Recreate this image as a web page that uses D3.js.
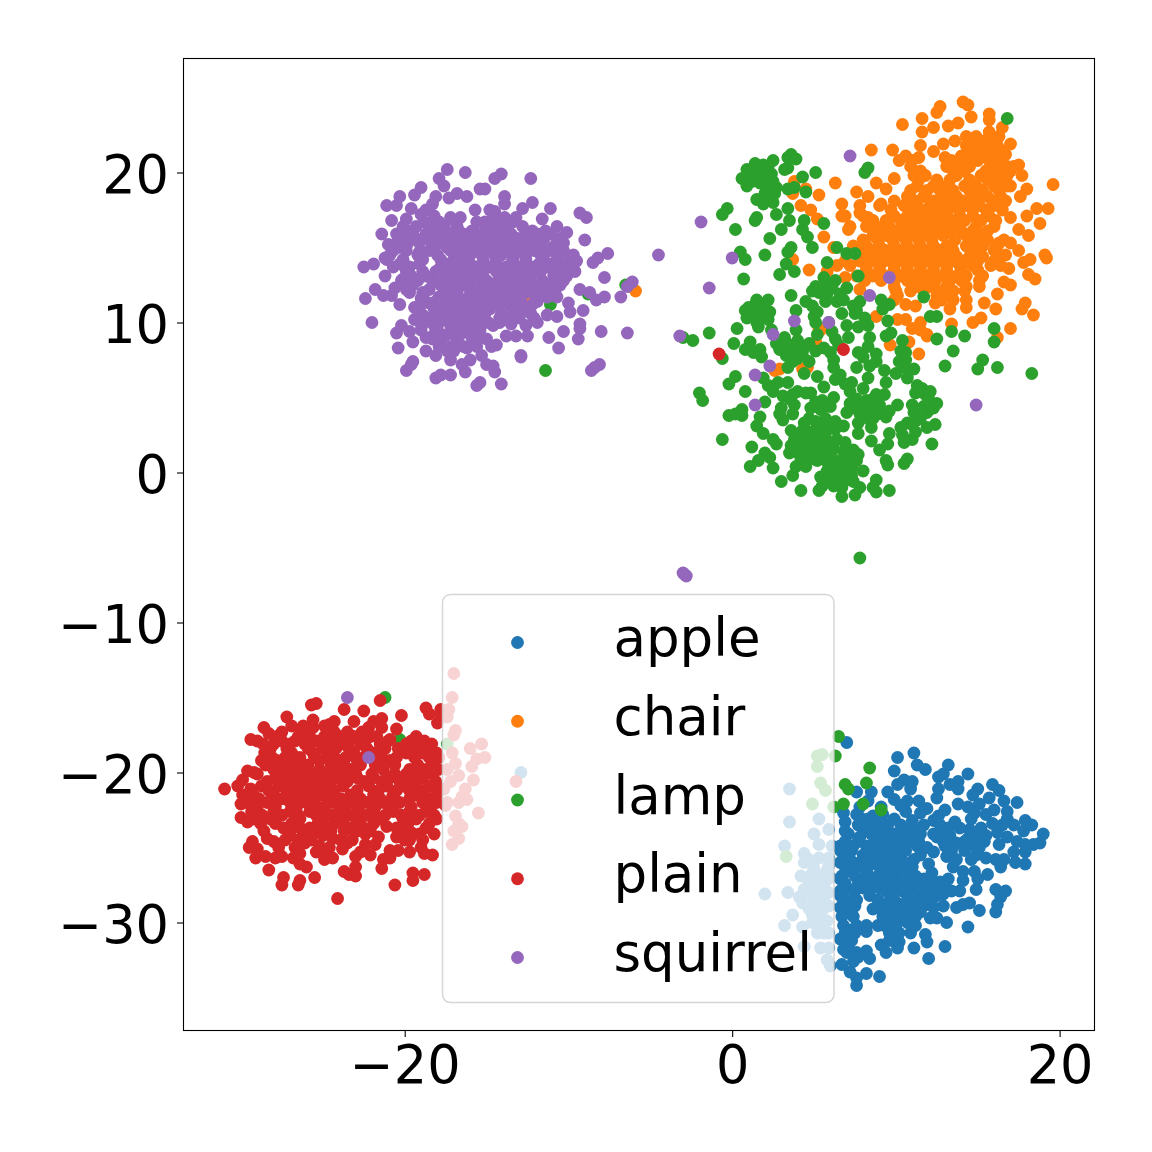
<!DOCTYPE html>
<html>
<head>
<meta charset="utf-8">
<script src="https://cdn.jsdelivr.net/npm/d3@7"></script>
<style>
    html, body { margin: 0; padding: 0; background: #fff; }
    text { font-family: "DejaVu Sans", sans-serif; }
</style>
</head>
<body>
<div class="chart"></div>
<script>
// Values, [x, y] in data units
var labels = ["apple", "chair", "lamp", "plain", "squirrel"];
var colors = ["#1f77b4", "#ff7f0e", "#2ca02c", "#d62728", "#9467bd"];
var xTicks = [-20, 0, 20];
var yTicks = [-30, -20, -10, 0, 10, 20];

var apple = [
[7.0,-18.0],[10.1,-19.0],[11.1,-18.7],[9.9,-19.9],[11.3,-19.5],[11.8,-19.8],[13.2,-19.5],[14.4,-20.1],[12.9,-20.1],[12.6,-20.3],
[13.8,-20.6],[10.5,-20.5],[11.0,-20.6],[10.1,-20.8],[10.9,-21.1],[9.5,-21.3],[9.9,-21.8],[8.5,-21.3],[7.6,-21.3],[15.9,-20.8],
[15.0,-21.1],[14.7,-21.5],[16.3,-21.2],[13.3,-20.8],[12.6,-21.1],[12.5,-21.7],[13.8,-21.1],[17.4,-22.0],[16.6,-21.9],[15.7,-21.7],
[15.1,-22.1],[16.8,-22.6],[16.0,-22.5],[13.0,-22.5],[13.8,-22.1],[14.4,-22.3],[11.4,-21.9],[10.7,-21.9],[11.9,-22.4],[11.5,-22.7],
[10.6,-22.6],[9.1,-22.3],[7.8,-22.3],[7.8,-23.0],[6.8,-22.7],[6.9,-23.3],[6.9,-23.9],[8.6,-22.9],[9.9,-23.1],[12.3,-23.2],
[17.9,-23.2],[18.3,-23.5],[16.8,-23.1],[17.2,-23.5],[17.8,-23.9],[19.0,-24.1],[18.8,-24.7],[18.4,-24.8],[17.9,-24.8],[17.9,-25.3],
[17.4,-24.6],[16.8,-24.3],[16.2,-24.0],[16.3,-24.8],[17.2,-25.3],[17.9,-26.1],[17.3,-26.0],[16.6,-25.8],[16.1,-25.8],[15.5,-25.7],
[15.2,-23.7],[14.5,-23.8],[13.9,-23.7],[13.2,-23.7],[13.3,-24.2],[12.3,-24.1],[14.7,-24.8],[14.2,-25.2],[13.1,-25.6],[13.7,-24.7],
[11.3,-24.9],[11.9,-25.0],[12.3,-25.3],[11.5,-25.5],[11.1,-25.8],[12.0,-26.1],[12.2,-26.7],[15.6,-26.8],[14.8,-26.6],[14.1,-26.6],
[15.0,-27.1],[14.9,-27.8],[13.9,-27.9],[14.1,-27.2],[13.2,-27.1],[12.7,-27.3],[11.6,-27.3],[16.1,-27.8],[16.7,-27.9],[16.4,-28.3],
[16.2,-28.8],[16.1,-29.3],[15.1,-29.2],[14.5,-28.7],[14.1,-28.8],[13.7,-29.0],[12.9,-28.9],[12.9,-28.1],[12.1,-28.0],[13.1,-30.0],
[12.5,-29.7],[12.1,-29.7],[14.4,-30.3],[13.0,-31.6],[11.9,-31.3],[11.8,-30.8],[11.1,-31.7],[12.0,-32.4],[10.2,-31.3],[9.9,-31.1],
[10.1,-31.7],[9.1,-31.5],[9.4,-32.0],[9.0,-33.6],[8.2,-33.4],[7.6,-34.2],[7.6,-33.7],[7.2,-33.3],[6.7,-32.8],[7.4,-32.6],
[7.7,-32.3],[8.4,-32.4],[8.2,-31.9],[7.1,-31.6],[6.8,-31.8],[6.6,-31.1],[7.3,-30.5],[6.8,-30.2],[8.2,-30.2],[8.2,-30.6],
[8.9,-30.2],[9.7,-30.1],[8.6,-29.1],[7.5,-28.9],[7.1,-29.3],[6.8,-28.7],[10.7,-30.0],[11.2,-30.2],[10.2,-30.7],
[8.1,-23.8],[9.2,-23.8],[10.7,-23.8],[11.1,-23.8],[7.8,-24.3],[8.8,-24.3],[10.1,-24.3],[11.1,-24.3],[12.5,-24.3],
[6.6,-24.9],[7.4,-24.9],[8.2,-24.9],[9.2,-24.9],[10.1,-24.9],[6.8,-25.5],[8.0,-25.5],[9.4,-25.5],[10.3,-25.5],
[6.6,-26.0],[7.8,-26.0],[8.6,-26.0],[9.65,-26.0],[10.5,-26.0],[7.0,-26.6],[8.2,-26.6],[9.2,-26.6],[10.1,-26.6],[10.7,-26.6],
[6.6,-27.1],[8.0,-27.1],[8.8,-27.1],[9.9,-27.1],[10.5,-27.1],[11.7,-27.1],[7.0,-27.7],[8.0,-27.7],[9.0,-27.7],[10.1,-27.7],[10.9,-27.7],[11.9,-27.7],
[6.6,-28.2],[8.4,-28.2],[9.65,-28.2],[10.7,-28.2],[11.7,-28.2],[12.5,-28.2],[9.4,-28.8],[10.3,-28.8],[11.1,-28.8],[11.9,-28.8],[9.65,-29.3],[10.7,-29.3],[11.5,-29.3],
[7.7,-23.5],[8.3,-23.5],[8.9,-23.5],[9.5,-23.5],[10.3,-23.5],[11.7,-23.5],[12.7,-23.5],[7.1,-24.1],[8.5,-24.1],[9.3,-24.1],[9.9,-24.1],[10.5,-24.1],[11.5,-24.1],
[6.9,-24.6],[7.7,-24.6],[8.7,-24.6],[9.6,-24.6],[10.7,-24.6],[11.4,-24.6],[12.9,-24.6],[14.2,-24.6],[15.4,-24.6],[6.6,-25.2],[7.3,-25.2],[8.4,-25.2],[8.9,-25.2],[9.8,-25.2],[10.6,-25.2],
[7.2,-25.8],[8.2,-25.8],[8.9,-25.8],[9.8,-25.8],[10.0,-25.8],[13.7,-25.8],[14.6,-25.8],[6.9,-26.3],[7.6,-26.3],[8.3,-26.3],[9.0,-26.3],[9.5,-26.3],[10.2,-26.3],[11.0,-26.3],[13.5,-26.3],
[6.7,-26.9],[7.5,-26.9],[8.3,-26.9],[8.9,-26.9],[9.7,-26.9],[10.5,-26.9],[11.2,-26.9],[6.9,-27.4],[7.7,-27.4],[8.3,-27.4],[9.3,-27.4],[9.9,-27.4],[10.7,-27.4],[11.2,-27.4],[12.2,-27.4],[13.0,-27.4],
[6.6,-27.9],[7.5,-27.9],[8.4,-27.9],[9.4,-27.9],[10.4,-27.9],[11.4,-27.9],[12.4,-27.9],[13.4,-27.9],[7.0,-28.5],[7.6,-28.5],[8.9,-28.5],[9.9,-28.5],[10.9,-28.5],[11.3,-28.5],[12.2,-28.5],
[6.6,-29.0],[7.2,-29.0],[9.0,-29.0],[10.0,-29.0],[10.9,-29.0],[11.4,-29.0],[12.3,-29.0],[6.7,-29.6],[7.4,-29.6],[9.2,-29.6],[10.1,-29.6],[10.5,-29.6],[11.2,-29.6],
[7.6,-30.2],[9.3,-30.2],[10.0,-30.2],[6.9,-30.7],[7.5,-30.7],[9.6,-30.7],[10.9,-30.7],[7.3,-31.2],[9.6,-31.2],[7.0,-32.0],[7.6,-32.0],
[15.5,-22.8],[14.8,-22.7],[16.5,-23.5],[15.9,-23.4],[14.9,-24.3],[14.4,-24.4],[13.5,-24.9],[13.0,-24.9],[13.4,-25.2],
[8.3,-21.9],[9.2,-22.8],[10.3,-22.2],[11.0,-23.2],[12.6,-22.9],[8.3,-23.1],[12.9,-23.9],[13.6,-23.3],[14.6,-23.1],[15.5,-24.2],[15.1,-25.0],[14.9,-25.5],[16.4,-26.3],[7.6,-22.8],
[3.5,-21.1],[3.5,-23.3],[5.3,-23.1],[5.9,-23.8],[5.0,-24.1],[5.3,-24.8],[3.2,-24.9],[6.1,-24.9],[4.4,-25.4],[4.7,-25.8],
[5.3,-25.7],[5.9,-25.7],[5.9,-26.2],[4.2,-26.9],[4.9,-26.7],[4.7,-27.3],[5.2,-27.3],[5.7,-27.3],[2.0,-28.1],[3.4,-28.0],
[4.1,-28.3],[4.7,-28.0],[5.3,-28.2],[5.9,-28.0],[4.7,-29.1],[3.7,-29.5],[5.3,-28.9],[5.9,-28.9],[3.2,-30.2],[4.3,-30.3],
[5.3,-29.7],[5.8,-29.9],[5.2,-30.7],[5.9,-30.7],[4.4,-31.6],[5.4,-31.7],[5.9,-31.7],[5.8,-32.5],[6.0,-32.9],[5.5,-30.2],
[4.4,-26.0],[5.0,-26.4],[5.5,-26.9],[6.0,-27.0],[4.4,-27.8],[5.0,-28.6],[5.6,-28.5],[4.9,-29.5],[5.5,-29.2],[4.9,-30.0],[5.8,-26.5],[4.3,-28.7],[5.6,-30.7],[5.0,-27.7],[5.5,-27.7],
[-12.9,-20.0]
];

var chair = [
[14.1,24.7],[14.4,24.5],[12.7,24.4],[12.5,24.0],[11.6,23.6],[14.6,23.7],[15.7,23.9],[15.7,23.5],[10.4,23.2],[13.2,23.1],
[13.8,23.3],[12.3,23.0],[11.6,22.7],[16.5,23.0],[15.7,22.7],[8.5,21.5],[9.8,21.5],[11.5,21.8],[12.9,21.9],[13.6,22.1],
[17.0,21.9],[10.6,21.1],[12.3,21.4],[11.4,21.0],[10.2,20.8],[13.0,21.0],[16.7,21.2],[17.5,20.5],[17.7,19.8],[19.6,19.2],
[18.0,18.9],[17.6,18.4],[17.0,19.1],[6.3,19.3],[8.8,19.3],[9.9,19.6],[9.4,18.9],[7.6,18.7],[8.3,18.4],[5.3,18.5],
[3.8,19.4],[3.7,18.6],[4.5,18.9],[6.7,17.9],[4.2,17.8],[4.8,17.5],[5.2,16.9],[5.6,15.7],[19.3,17.6],[18.6,17.6],
[18.0,17.1],[17.0,17.0],[18.8,16.6],[18.1,15.8],[17.5,16.2],[17.0,15.3],[16.3,15.3],[17.5,14.8],[19.1,14.5],[19.2,14.3],
[18.2,14.2],[17.8,14.0],[18.1,13.2],[18.5,12.9],[16.9,13.6],[16.7,14.5],[17.0,12.5],[16.6,12.7],[16.2,11.9],[15.1,12.4],
[17.9,11.3],[17.7,10.9],[18.4,10.5],[16.1,10.9],[15.4,11.3],[15.2,10.3],[14.7,10.0],[17.0,9.6],[14.3,11.0],[14.3,11.5],
[13.3,10.9],[12.4,11.3],[13.4,9.9],[11.5,10.0],[11.0,9.6],[10.6,10.2],[10.1,10.2],[8.8,10.4],[11.2,11.1],[10.6,11.2],
[11.9,9.2],[16.2,9.0],[4.7,13.5],[5.8,13.4],[3.7,14.2],[6.2,15.0],[6.9,13.0],[7.8,12.2],[5.3,9.6],
[9.65,8.5],[10.8,8.7],[11.4,7.9],[11.9,9.1],[11.5,9.5],[2.9,6.9],[2.6,6.8],[4.6,7.0],[4.3,6.9],[5.1,8.7],[5.4,9.5],
[-5.9,12.1],[-12.4,11.8],
[14.3,22.4],[14.9,22.4],[15.7,22.4],[16.3,22.4],[14.3,21.8],[14.9,21.8],[15.6,21.8],[16.2,21.8],[14.0,21.1],[14.7,21.1],[15.4,21.1],[16.1,21.1],
[10.9,20.4],[13.1,20.4],[13.9,20.4],[14.5,20.4],[15.8,20.4],[16.8,20.4],[17.2,20.4],[11.1,19.8],[11.8,19.8],[13.7,19.8],[15.2,19.8],[16.0,19.8],[16.8,19.8],
[11.3,19.1],[12.3,19.1],[13.1,19.1],[14.2,19.1],[14.9,19.1],[16.0,19.1],[16.8,19.1],[10.7,18.4],[11.7,18.4],[12.9,18.4],[13.7,18.4],[14.7,18.4],[15.6,18.4],[16.4,18.4],
[7.8,17.8],[9.0,17.8],[10.5,17.8],[11.3,17.8],[12.1,17.8],[12.9,17.8],[13.5,17.8],[14.3,17.8],[15.1,17.8],[16.0,17.8],
[6.8,17.1],[8.0,17.1],[9.9,17.1],[10.7,17.1],[11.5,17.1],[12.3,17.1],[13.1,17.1],[13.9,17.1],[14.7,17.1],[15.7,17.1],
[7.2,16.4],[8.2,16.4],[8.8,16.4],[9.6,16.4],[10.5,16.4],[11.3,16.4],[12.1,16.4],[12.9,16.4],[13.7,16.4],[14.9,16.4],[16.0,16.4],
[8.6,15.8],[9.4,15.8],[10.3,15.8],[11.1,15.8],[11.7,15.8],[12.9,15.8],[14.3,15.8],[15.1,15.8],
[7.4,15.1],[8.2,15.1],[9.0,15.1],[9.9,15.1],[10.7,15.1],[11.5,15.1],[12.3,15.1],[13.1,15.1],[14.3,15.1],[15.3,15.1],[16.2,15.1],
[8.0,14.4],[8.8,14.4],[9.6,14.4],[10.5,14.4],[11.3,14.4],[12.1,14.4],[12.9,14.4],[13.7,14.4],[14.5,14.4],[15.3,14.4],[16.2,14.4],
[6.4,13.8],[7.2,13.8],[8.2,13.8],[9.0,13.8],[9.9,13.8],[10.7,13.8],[11.5,13.8],[12.3,13.8],[13.1,13.8],[13.9,13.8],[14.7,13.8],[15.8,13.8],[16.4,13.8],
[7.6,13.1],[8.6,13.1],[9.4,13.1],[10.3,13.1],[11.1,13.1],[11.9,13.1],[12.9,13.1],[13.7,13.1],[14.3,13.1],[15.3,13.1],
[9.9,12.4],[11.3,12.4],[12.1,12.4],[13.1,12.4],[14.3,12.4],[10.1,11.8],[12.5,11.8],[13.3,11.8],
[6.9,17.1],[7.1,16.2],[6.7,17.1],[7.8,17.3],[8.3,17.0],[9.1,17.9],[9.9,18.1],
[14.6,22.1],[15.2,22.1],[16.0,22.1],[14.6,21.5],[15.3,21.5],[15.9,21.5],[16.4,21.5],[14.4,20.8],[15.0,20.8],[15.7,20.8],[16.4,20.8],[11.0,20.8],[13.4,20.8],
[11.5,20.1],[13.5,20.1],[14.2,20.1],[15.5,20.1],[16.3,20.1],[17.0,20.1],[11.4,19.5],[12.5,19.5],[13.3,19.5],[14.5,19.5],[15.6,19.5],[16.4,19.5],
[10.9,18.8],[11.9,18.8],[12.7,18.8],[13.5,18.8],[14.5,18.8],[15.3,18.8],[16.3,18.8],[11.2,18.1],[12.3,18.1],[13.3,18.1],[14.1,18.1],[15.0,18.1],[15.9,18.1],[16.7,18.1],
[9.7,17.5],[10.9,17.5],[11.8,17.5],[12.5,17.5],[13.2,17.5],[13.9,17.5],[14.7,17.5],[15.5,17.5],[16.5,17.5],
[8.6,16.8],[9.4,16.8],[10.3,16.8],[11.1,16.8],[11.9,16.8],[12.6,16.8],[13.4,16.8],[14.2,16.8],[15.2,16.8],[16.1,16.8],
[9.1,16.1],[10.0,16.1],[10.8,16.1],[11.6,16.1],[12.4,16.1],[13.3,16.1],[14.0,16.1],[14.7,16.1],[15.6,16.1],
[8.0,15.5],[8.9,15.5],[9.8,15.5],[10.6,15.5],[11.4,15.5],[12.2,15.5],[13.6,15.5],[14.7,15.5],[15.6,15.5],[16.6,15.5],
[7.8,14.8],[8.6,14.8],[9.4,14.8],[10.2,14.8],[11.0,14.8],[11.8,14.8],[12.7,14.8],[13.5,14.8],[14.6,14.8],[15.1,14.8],[16.0,14.8],
[6.9,14.1],[7.8,14.1],[8.5,14.1],[9.3,14.1],[10.2,14.1],[11.0,14.1],[11.8,14.1],[12.6,14.1],[13.4,14.1],[14.2,14.1],[15.0,14.1],[16.0,14.1],
[8.2,13.5],[9.0,13.5],[9.9,13.5],[10.7,13.5],[11.5,13.5],[12.3,13.5],[13.1,13.5],[14.0,13.5],[15.0,13.5],
[8.1,12.8],[9.1,12.8],[9.9,12.8],[10.7,12.8],[11.6,12.8],[12.4,12.8],[13.3,12.8],[14.0,12.8],[15.1,12.8],
[10.0,12.1],[10.9,12.1],[11.7,12.1],[12.7,12.1],[13.5,12.1],[14.2,12.1],[9.9,11.5],[12.8,11.5],[13.5,11.5]
];

var lamp = [
[3.6,21.2],[3.9,20.9],[3.4,21.0],[2.5,20.8],[1.4,20.6],[1.9,20.5],[0.9,20.2],[0.6,19.6],[0.9,19.1],[1.4,19.9],
[1.9,19.8],[2.4,19.9],[2.2,19.2],[2.7,19.0],[3.4,20.3],[3.2,20.2],[5.1,20.0],[4.3,19.7],[3.4,18.9],[3.8,19.0],
[4.5,18.7],[1.5,18.2],[2.2,18.4],[2.5,18.0],[2.1,18.9],[1.7,19.3],[2.7,17.2],[3.4,17.6],[3.5,16.8],[3.0,16.2],
[8.3,20.3],[8.1,20.0],[-0.3,17.6],[-0.6,17.2],[1.5,17.0],[1.4,16.8],[0.2,16.2],[4.4,16.8],[4.3,16.2],[4.6,15.7],
[4.9,15.0],[5.6,16.6],[2.3,15.6],[0.5,14.7],[0.8,14.2],[2.0,14.5],[3.6,15.0],[3.4,14.7],[6.4,15.0],[7.0,14.6],
[7.5,14.6],[5.8,14.0],[3.3,13.9],[2.9,13.2],[3.8,13.4],[0.7,12.9],[7.7,13.1],[16.8,23.6],
[11.7,11.7],[6.3,12.8],[5.8,12.5],[5.1,12.4],[5.3,12.0],[5.7,11.4],[7.0,12.3],[6.6,11.9],[6.4,11.4],[3.6,11.8],
[2.2,11.5],[1.4,11.2],[1.1,10.7],[1.7,10.9],[2.3,10.7],[0.9,10.3],[1.6,9.7],[0.3,9.6],[-1.4,9.3],[-2.4,8.8],
[-3.0,9.0],[4.5,11.4],[4.9,11.1],[3.9,10.8],[5.2,10.7],[5.1,10.0],[6.7,10.6],[7.8,11.4],[7.4,11.1],[7.6,10.8],
[9.1,11.5],[9.2,10.9],[9.6,11.2],[8.1,10.3],[9.5,10.1],[8.3,9.8],[7.7,9.7],[7.0,9.8],[12.1,10.4],[12.5,10.4],
[13.4,9.4],[14.2,9.1],[16.0,9.6],[12.5,8.9],[16.0,8.7],[13.5,8.1],[15.3,7.5],[15.0,6.9],[16.2,7.0],[13.0,7.1],
[18.3,6.6],[3.9,9.5],[5.2,9.2],[2.4,9.5],[5.9,10.0],[6.1,9.4],[6.3,8.9],[7.1,9.0],[8.4,9.0],[8.3,8.4],
[9.4,9.1],[9.7,9.3],[10.4,8.8],[10.3,8.1],[10.6,7.5],[10.5,7.0],[11.1,6.9],[10.0,6.6],[9.3,6.8],[9.4,6.0],
[8.8,7.9],[8.4,7.1],[8.3,6.3],[8.0,5.6],[7.7,8.0],[8.0,7.7],[7.6,7.0],[7.3,6.0],[6.9,5.9],[6.3,6.2],
[6.2,7.0],[6.2,7.5],[5.6,8.3],[5.1,8.1],[4.7,7.4],[4.4,6.6],[5.2,6.4],[5.6,5.7],[4.4,8.3],[4.0,8.8],
[3.6,8.1],[3.2,8.8],[2.9,8.2],[4.0,7.6],[0.1,8.6],[1.1,8.7],[0.8,8.2],[1.3,8.0],[1.7,8.2],[1.8,7.7],
[-0.6,7.6],[0.2,6.4],[-0.2,5.9],[0.8,5.4],[-2.0,5.3],[-1.8,4.8],[1.9,6.3],[2.2,5.8],[2.5,5.4],[2.8,6.0],
[3.4,6.0],[2.0,4.7],[0.6,4.2],[0.2,3.9],[-0.2,3.8],[0.6,3.8],[1.7,3.7],[1.5,3.1],[1.9,2.6],[-0.6,2.2],
[2.5,2.2],[2.7,1.9],[1.2,1.7],[2.0,1.3],[2.3,1.0],[1.6,0.8],[1.1,0.4],[2.5,0.3],[3.0,-0.6],[3.7,-0.2],
[4.2,-1.2],[5.3,-1.2],[5.5,-0.9],[5.4,-0.3],[6.2,-0.9],[6.7,-1.0],[6.7,-1.6],[7.5,-1.5],[7.8,-1.0],[7.4,-0.6],
[8.0,0.1],[8.6,-1.0],[8.8,-1.3],[8.8,-0.5],[9.6,-1.2],[9.4,0.8],[9.5,0.5],[10.5,0.6],[10.7,0.9],[9.0,1.5],
[9.5,1.9],[9.6,2.6],[8.5,2.1],[8.5,3.0],[7.7,2.6],[10.5,2.0],[10.4,2.5],[11.2,2.7],[12.2,1.9],[12.4,3.2],
[11.9,3.0],[11.3,3.5],[10.7,3.3],[10.3,3.0],[11.1,4.0],[11.9,4.0],[12.3,4.3],[12.5,4.6],[11.7,4.4],[11.0,4.5],
[10.1,4.5],[9.6,4.1],[9.4,3.7],[8.9,3.9],[8.2,4.1],[7.8,3.9],[7.7,3.3],[7.0,4.0],[8.7,4.3],[8.2,4.8],
[8.8,5.2],[9.3,5.2],[8.0,4.5],[11.3,5.8],[12.1,5.4],[11.2,5.3],[11.8,5.2],[7.6,4.9],[6.2,5.0],[5.5,4.8],
[6.0,4.4],[4.8,5.3],[4.5,5.3],[3.7,5.2],[3.1,5.1],[3.0,4.3],[3.8,4.5],[3.7,3.9],[2.9,3.9],[3.1,3.5],
[4.8,4.3],[5.4,4.2],[4.4,3.3],[5.1,3.4],[5.8,3.1],[6.8,3.1],[6.3,2.9],[3.6,2.8],[4.2,2.4],[3.6,1.8],
[3.5,1.3],[4.2,1.8],[4.8,2.2],[5.4,2.2],[4.6,1.3],[5.2,1.5],[5.8,1.5],[3.9,0.4],[4.5,0.4],[5.2,0.8],
[6.0,0.4],[6.7,0.0],[6.4,0.2],[7.0,0.7],[7.6,0.8],[7.7,1.2],[6.8,1.4],[7.4,1.5],[6.9,2.0],[6.4,2.2],
[6.2,-0.2],[6.0,1.1],[5.0,0.9],[7.3,0.3],[7.1,0.1],[5.8,0.1],[7.8,-5.7],
[1.0,20.0],[1.6,20.2],[2.2,20.4],[1.2,19.4],[1.8,19.5],[2.5,19.4],[2.0,18.6],[2.6,18.6],[1.9,17.9],
[1.0,11.0],[1.5,11.5],[1.9,11.1],[1.2,10.4],[1.8,10.3],[2.2,10.2],[1.5,10.0],[0.8,10.8],
[3.0,8.4],[3.5,8.5],[3.9,8.2],[4.3,7.8],[3.3,7.8],[3.7,7.4],
[4.3,1.0],[3.9,1.4],[4.9,1.7],[5.5,1.0],[5.8,0.7],[6.3,0.8],[6.7,0.7],[6.4,-0.5],[6.2,1.6],[5.4,1.8],[4.7,2.7],[5.0,2.4],[5.7,2.6],[6.0,2.0],[7.0,1.1],[7.3,-0.2],[7.0,-0.5],[4.2,0.9],[3.8,2.2],[4.3,2.8],[5.9,-0.5],[5.5,-0.4],
[8.3,3.6],[8.6,3.6],[8.2,4.6],[8.6,4.9],[9.0,4.5],[7.5,4.3],[7.2,4.6],[5.1,4.7],[5.7,4.4],[5.2,3.0],[4.7,3.6],[5.7,3.6],[6.3,3.4],
[3.5,4.9],[11.0,3.2],[11.5,3.6],[11.0,2.2],[11.6,5.6],[12.0,4.9],[3.4,7.0],[4.7,8.6],[6.5,8.5],[6.0,8.0],[6.6,6.5],[7.2,5.4],[4.0,5.4],[10.7,6.3],[10.2,7.4],[8.8,7.4],
[5.5,12.0],[5.8,11.9],[6.1,12.3],[4.9,12.1],[5.6,13.0],[6.8,11.5],[7.5,10.6],[9.3,11.2],[5.0,10.4],[10.6,8.0],[2.7,8.6],[3.2,9.0],
[-11.1,11.2],[-8.8,11.9],[-6.5,12.5],[-11.4,6.8],
[6.5,-17.6],[6.3,-18.9],[8.4,-19.7],[8.2,-20.7],[6.9,-20.8],[7.1,-21.1],[6.8,-22.1],[8.0,-22.1],[9.1,-22.5],[6.2,-22.3],
[5.5,-18.8],[5.2,-18.9],[5.2,-19.6],[5.4,-20.7],[5.7,-21.2],[4.9,-22.1],[3.3,-25.6],
[-21.2,-15.0],[-20.3,-17.8],[-17.4,-18.1]
];

var plain = [
[-25.4,-15.4],[-25.7,-15.5],[-23.7,-15.8],[-21.5,-15.2],[-22.5,-15.9],[-27.2,-16.3],[-28.6,-17.0],[-29.4,-17.8],[-25.6,-16.5],[-25.6,-17.0],
[-24.3,-16.6],[-24.6,-16.8],[-23.1,-16.6],[-21.9,-16.6],[-21.4,-16.4],[-20.2,-16.2],[-20.5,-17.1],[-19.3,-17.6],[-18.7,-15.7],[-18.5,-16.1],
[-17.8,-15.8],[-18.0,-16.7],[-17.8,-16.2],[-20.9,-17.8],[-29.6,-19.9],[-29.2,-20.0],[-31.0,-21.1],[-30.2,-20.9],[-29.9,-21.5],[-30.0,-22.1],
[-30.0,-23.0],[-29.6,-23.3],[-28.6,-23.9],[-29.3,-24.6],[-29.5,-25.0],[-29.0,-25.1],[-29.1,-25.7],[-28.5,-25.6],[-27.9,-25.7],[-28.3,-26.5],
[-27.4,-27.0],[-27.5,-27.5],[-26.5,-27.5],[-26.4,-27.2],[-25.5,-27.0],[-26.0,-26.3],[-26.4,-26.1],[-26.8,-25.7],[-28.0,-24.6],[-25.4,-25.3],
[-24.9,-25.8],[-24.4,-25.7],[-25.2,-24.9],[-23.8,-25.1],[-26.1,-24.7],[-23.7,-26.6],[-23.0,-26.9],[-23.4,-26.8],[-23.0,-26.3],[-23.0,-25.6],
[-22.7,-25.3],[-22.1,-25.5],[-21.4,-26.4],[-21.3,-25.8],[-20.9,-25.7],[-20.9,-25.2],[-20.4,-25.2],[-19.7,-25.3],[-18.8,-25.4],[-18.3,-25.5],
[-19.5,-26.7],[-18.8,-26.8],[-19.5,-27.2],[-20.6,-27.5],[-24.1,-28.4],[-21.6,-24.3],[-20.5,-24.3],[-18.9,-24.5],[-18.2,-24.1],[-19.6,-24.0],
[-22.4,-24.1],[-23.5,-24.7],[-24.4,-24.4],[-24.9,-24.1],[-21.1,-23.6],
[-27.8,-17.6],[-26.5,-17.6],[-25.8,-17.6],[-24.9,-17.6],[-24.0,-17.6],[-23.1,-17.6],[-22.1,-17.6],[-21.7,-17.6],
[-28.65,-18.1],[-28.0,-18.1],[-27.0,-18.1],[-26.1,-18.1],[-24.8,-18.1],[-23.75,-18.1],[-22.7,-18.1],[-21.5,-18.1],[-19.9,-18.1],[-19.1,-18.1],[-18.35,-18.1],
[-28.55,-18.7],[-26.9,-18.7],[-25.6,-18.7],[-24.4,-18.7],[-23.1,-18.7],[-21.9,-18.7],[-19.9,-18.7],[-18.9,-18.7],[-18.05,-18.7],
[-28.75,-19.2],[-27.8,-19.2],[-26.6,-19.2],[-25.2,-19.2],[-24.0,-19.2],[-22.9,-19.2],[-20.9,-19.2],[-18.25,-19.2],
[-28.0,-19.8],[-27.3,-19.8],[-26.3,-19.8],[-25.2,-19.8],[-24.2,-19.8],[-23.3,-19.8],[-21.3,-19.8],[-19.7,-19.8],[-18.7,-19.8],[-17.95,-19.8],
[-27.9,-20.35],[-27.0,-20.35],[-26.0,-20.35],[-25.0,-20.35],[-24.0,-20.35],[-22.9,-20.35],[-21.9,-20.35],[-20.9,-20.35],[-19.7,-20.35],[-18.9,-20.35],
[-28.75,-20.9],[-27.7,-20.9],[-26.8,-20.9],[-25.9,-20.9],[-24.8,-20.9],[-23.75,-20.9],[-22.2,-20.9],[-21.1,-20.9],[-20.1,-20.9],[-19.3,-20.9],[-18.5,-20.9],
[-29.25,-21.5],[-28.0,-21.5],[-27.0,-21.5],[-26.0,-21.5],[-25.0,-21.5],[-23.3,-21.5],[-21.9,-21.5],[-20.7,-21.5],[-19.3,-21.5],[-18.05,-21.5],
[-29.65,-22.0],[-28.4,-22.0],[-27.0,-22.0],[-26.0,-22.0],[-24.4,-22.0],[-23.3,-22.0],[-22.3,-22.0],[-21.3,-22.0],[-20.3,-22.0],[-18.9,-22.0],[-18.05,-22.0],
[-29.35,-22.6],[-28.0,-22.6],[-27.0,-22.6],[-25.8,-22.6],[-24.0,-22.6],[-22.9,-22.6],[-21.9,-22.6],[-20.7,-22.6],[-19.7,-22.6],[-18.7,-22.6],
[-29.25,-23.1],[-28.2,-23.1],[-26.4,-23.1],[-25.0,-23.1],[-23.75,-23.1],[-22.7,-23.1],[-21.5,-23.1],[-20.1,-23.1],[-19.3,-23.1],[-18.05,-23.1],
[-27.4,-23.7],[-26.4,-23.7],[-25.8,-23.7],[-24.8,-23.7],[-23.3,-23.7],[-22.5,-23.7],[-20.1,-23.7],[-18.7,-23.7],[-27.0,-24.2],[-25.0,-24.2],
[-27.5,-17.3],[-26.3,-17.3],[-24.3,-17.3],[-23.5,-17.3],[-22.6,-17.3],
[-29.0,-17.9],[-27.5,-17.9],[-26.7,-17.9],[-25.4,-17.9],[-24.5,-17.9],[-23.4,-17.9],[-22.4,-17.9],[-21.0,-17.9],[-19.6,-17.9],[-18.8,-17.9],
[-28.2,-18.4],[-27.2,-18.4],[-25.9,-18.4],[-25.0,-18.4],[-24.2,-18.4],[-23.4,-18.4],[-22.3,-18.4],[-21.2,-18.4],[-20.4,-18.4],[-19.5,-18.4],[-18.6,-18.4],
[-28.1,-19.0],[-27.3,-19.0],[-26.4,-19.0],[-25.5,-19.0],[-24.7,-19.0],[-23.6,-19.0],[-22.5,-19.0],[-21.4,-19.0],[-20.5,-19.0],[-19.4,-19.0],[-18.5,-19.0],[-17.9,-19.0],
[-28.5,-19.5],[-27.5,-19.5],[-26.9,-19.5],[-25.9,-19.5],[-24.5,-19.5],[-23.7,-19.5],[-22.7,-19.5],[-21.8,-19.5],[-20.6,-19.5],[-19.2,-19.5],[-18.3,-19.5],
[-29.0,-20.1],[-27.6,-20.1],[-26.7,-20.1],[-25.7,-20.1],[-24.7,-20.1],[-23.8,-20.1],[-23.0,-20.1],[-22.0,-20.1],[-20.6,-20.1],[-19.9,-20.1],[-19.1,-20.1],[-18.3,-20.1],
[-28.4,-20.6],[-27.4,-20.6],[-26.5,-20.6],[-25.5,-20.6],[-24.5,-20.6],[-23.5,-20.6],[-22.5,-20.6],[-21.4,-20.6],[-20.3,-20.6],[-19.3,-20.6],[-18.1,-20.6],
[-28.3,-21.2],[-27.2,-21.2],[-26.3,-21.2],[-25.4,-21.2],[-24.3,-21.2],[-22.9,-21.2],[-21.6,-21.2],[-20.5,-21.2],[-19.7,-21.2],[-18.8,-21.2],[-17.9,-21.2],
[-28.9,-21.75],[-27.5,-21.75],[-26.5,-21.75],[-25.5,-21.75],[-24.7,-21.75],[-23.9,-21.75],[-22.7,-21.75],[-21.5,-21.75],[-20.8,-21.75],[-19.7,-21.75],[-18.5,-21.75],
[-29.0,-22.3],[-27.9,-22.3],[-26.6,-22.3],[-25.3,-22.3],[-24.9,-22.3],[-23.7,-22.3],[-22.8,-22.3],[-21.8,-22.3],[-20.9,-22.3],[-19.6,-22.3],[-18.4,-22.3],
[-28.7,-22.85],[-27.5,-22.85],[-26.5,-22.85],[-25.4,-22.85],[-24.5,-22.85],[-23.3,-22.85],[-22.3,-22.85],[-21.2,-22.85],[-20.2,-22.85],[-19.1,-22.85],[-18.2,-22.85],
[-28.8,-23.4],[-27.9,-23.4],[-26.9,-23.4],[-25.3,-23.4],[-24.3,-23.4],[-23.8,-23.4],[-22.9,-23.4],[-21.9,-23.4],[-19.8,-23.4],[-18.5,-23.4],
[-27.0,-23.9],[-26.1,-23.9],[-25.3,-23.9],[-24.5,-23.9],[-23.7,-23.9],[-22.9,-23.9],[-22.1,-23.9],
[-27.3,-24.5],[-26.5,-24.5],[-25.7,-24.5],[-23.9,-24.5],[-23.2,-24.5],[-19.7,-24.5],[-20.0,-24.5],[-27.7,-25.0],[-26.7,-25.0],[-24.6,-25.0],
[-28.3,-17.4],[-26.9,-16.9],[-26.2,-16.9],[-24.9,-16.9],[-22.2,-17.0],[-21.4,-17.0],[-29.9,-20.5],[-29.4,-21.1],[-29.3,-22.1],[-29.0,-22.6],
[-28.4,-24.4],[-27.5,-25.6],[-26.4,-25.4],[-24.7,-25.2],[-22.4,-24.8],[-21.8,-24.8],[-19.0,-25.0],[-19.1,-24.1],[-20.5,-23.7],
[-17.0,-13.4],[-17.1,-15.0],[-17.3,-15.8],[-17.4,-16.3],[-16.9,-17.2],[-17.0,-17.5],[-15.3,-18.1],[-16.0,-18.4],[-17.1,-18.7],[-16.9,-19.4],
[-15.1,-19.0],[-15.6,-19.1],[-15.9,-19.6],[-16.7,-20.2],[-15.8,-20.5],[-17.2,-20.6],[-13.2,-20.6],[-16.3,-21.1],[-16.5,-21.6],[-16.2,-21.8],
[-16.7,-22.0],[-17.4,-22.0],[-15.5,-22.7],[-16.9,-22.9],[-16.7,-23.4],[-16.5,-23.6],[-17.0,-23.9],[-16.7,-24.4],[-17.1,-24.8],[-17.5,-22.2],
[-17.4,-19.8],[-17.6,-21.1],
[-0.8,7.9],[6.8,8.2]
];

var squirrel = [
[-17.4,20.2],[-16.3,20.0],[-17.9,19.6],[-17.6,19.1],[-14.5,19.6],[-14.1,19.9],[-12.3,19.6],[-15.4,18.9],[-15.1,18.9],[-19.0,19.0],
[-20.3,18.4],[-19.4,18.5],[-21.1,17.8],[-20.5,17.8],[-18.1,18.4],[-17.3,18.3],[-16.8,18.6],[-16.2,18.4],[-13.9,18.4],[-12.2,18.0],
[-11.1,17.6],[-9.3,17.3],[-8.9,17.0],[-11.6,16.9],[-15.7,17.5],[-14.8,17.5],[-14.5,17.4],[-12.8,17.6],[-13.9,17.9],[-19.6,17.6],
[-18.7,17.5],[-18.3,17.9],[-20.8,16.8],[-20.1,16.4],[-21.4,15.9],[-10.7,16.4],[-10.1,16.0],[-9.0,15.5],[-21.0,15.2],[-20.9,14.5],
[-21.2,14.3],[-22.5,13.7],[-21.9,13.9],[-7.6,14.6],[-8.2,14.3],[-8.5,14.0],[-4.5,14.5],[-9.5,14.1],[-10.3,15.3],[-11.0,15.0],
[-10.7,14.0],[-7.8,13.0],[-6.4,12.4],[-6.1,12.7],[-6.8,11.7],[-7.8,11.7],[-8.3,11.5],[-8.7,12.0],[-9.3,12.2],[-21.8,12.2],
[-21.3,11.8],[-20.6,12.3],[-20.8,11.8],[-22.4,11.6],[-20.3,11.2],[-19.4,11.0],[-10.0,11.3],[-9.1,10.8],[-9.9,10.7],[-10.7,10.4],
[-11.3,10.5],[-10.7,11.7],[-22.0,10.0],[-19.4,10.2],[-20.2,9.8],[-20.5,9.3],[-20.4,8.3],[-19.5,8.7],[-19.7,9.4],[-18.7,9.0],
[-11.2,9.0],[-10.3,9.4],[-9.3,9.9],[-9.3,9.6],[-9.4,8.9],[-8.0,9.4],[-6.4,9.3],[-10.6,8.3],[-12.9,7.8],[-12.9,7.7],
[-12.5,9.1],[-13.2,9.1],[-13.8,9.1],[-14.4,8.5],[-14.7,8.4],[-18.7,8.1],[-18.1,7.8],[-17.2,7.5],[-19.5,7.4],[-19.9,6.8],
[-19.6,7.2],[-16.3,6.7],[-16.0,7.5],[-15.3,7.8],[-14.6,7.1],[-14.5,6.7],[-14.1,5.9],[-15.6,5.8],[-15.4,6.0],[-17.2,6.5],
[-17.8,6.5],[-18.1,6.3],[-8.6,6.8],[-8.1,7.2],[-8.4,7.0],
[-17.2,17.0],[-16.6,17.0],[-15.6,16.7],[-14.6,17.0],[-13.9,17.0],[-13.2,17.0],
[-19.3,16.4],[-18.5,16.4],[-17.6,16.4],[-16.8,16.4],[-14.8,16.4],[-14.2,16.4],[-12.8,16.4],
[-20.5,15.9],[-18.7,15.9],[-18.0,15.9],[-17.2,15.9],[-16.4,15.9],[-15.6,15.9],[-14.9,15.9],[-14.2,15.9],[-13.5,15.9],[-12.6,15.9],[-11.9,15.9],[-11.1,15.9],
[-19.8,15.3],[-19.1,15.3],[-17.8,15.3],[-17.0,15.3],[-16.2,15.3],[-15.4,15.3],[-14.6,15.3],[-13.6,15.3],[-12.8,15.3],[-11.9,15.3],[-10.7,15.3],
[-20.7,14.8],[-19.9,14.8],[-18.5,14.8],[-17.2,14.8],[-16.4,14.8],[-15.6,14.8],[-14.8,14.8],[-13.8,14.8],[-13.0,14.8],[-12.1,14.8],[-11.1,14.8],[-10.3,14.8],
[-21.1,14.2],[-20.1,14.2],[-18.9,14.2],[-17.8,14.2],[-17.0,14.2],[-16.2,14.2],[-15.2,14.2],[-14.4,14.2],[-13.4,14.2],[-12.6,14.2],[-11.5,14.2],[-10.7,14.2],[-9.9,14.2],
[-20.7,13.7],[-19.7,13.7],[-17.8,13.7],[-17.2,13.7],[-16.6,13.7],[-15.6,13.7],[-14.8,13.7],[-13.8,13.7],[-13.0,13.7],[-12.1,13.7],[-11.3,13.7],[-10.5,13.7],
[-21.2,13.1],[-19.6,13.1],[-18.7,13.1],[-17.6,13.1],[-17.0,13.1],[-16.2,13.1],[-15.4,13.1],[-14.0,13.1],[-13.4,13.1],[-12.3,13.1],[-10.9,13.1],[-10.1,13.1],
[-19.5,12.5],[-17.8,12.5],[-17.2,12.5],[-16.4,12.5],[-15.2,12.5],[-14.6,12.5],[-13.8,12.5],[-12.8,12.5],[-12.1,12.5],[-11.1,12.5],[-10.5,12.5],
[-19.7,12.0],[-18.9,12.0],[-17.6,12.0],[-16.8,12.0],[-15.6,12.0],[-14.4,12.0],[-13.6,12.0],[-12.6,12.0],[-11.1,12.0],
[-18.1,11.4],[-17.2,11.4],[-16.4,11.4],[-15.8,11.4],[-15.0,11.4],[-14.0,11.4],[-13.2,11.4],[-11.9,11.4],
[-18.2,10.9],[-17.0,10.9],[-16.2,10.9],[-15.4,10.9],[-14.8,10.9],[-13.4,10.9],[-12.6,10.9],
[-18.5,10.3],[-17.6,10.3],[-16.8,10.3],[-16.0,10.3],[-15.2,10.3],[-14.2,10.3],[-13.6,10.3],[-13.0,10.3],[-12.1,10.3],
[-18.2,9.8],[-17.2,9.8],[-16.4,9.8],[-15.6,9.8],[-14.6,9.8],[-18.2,9.2],[-17.4,9.2],[-16.6,9.2],[-15.8,9.2],[-17.8,8.7],[-16.8,8.7],[-15.8,8.7],[-17.0,8.1],[-17.4,8.1],
[-18.8,16.7],[-17.9,16.7],[-16.9,16.7],[-15.1,16.7],[-14.1,16.7],[-13.4,16.7],
[-19.8,16.1],[-18.4,16.1],[-17.5,16.1],[-16.7,16.1],[-15.9,16.1],[-15.1,16.1],[-14.5,16.1],[-13.8,16.1],[-12.2,16.1],[-11.4,16.1],
[-20.2,15.6],[-17.5,15.6],[-16.8,15.6],[-16.0,15.6],[-15.2,15.6],[-14.5,15.6],[-13.9,15.6],[-13.1,15.6],[-12.3,15.6],[-11.5,15.6],[-10.5,15.6],
[-20.4,15.0],[-18.2,15.0],[-17.4,15.0],[-16.7,15.0],[-15.8,15.0],[-15.0,15.0],[-14.2,15.0],[-13.3,15.0],[-12.5,15.0],[-11.6,15.0],[-10.4,15.0],
[-19.2,14.5],[-18.0,14.5],[-16.8,14.5],[-16.0,14.5],[-15.3,14.5],[-14.5,14.5],[-14.1,14.5],[-13.3,14.5],[-12.6,14.5],[-11.7,14.5],[-10.6,14.5],[-9.7,14.5],
[-20.3,13.9],[-19.1,13.9],[-17.5,13.9],[-16.9,13.9],[-16.0,13.9],[-15.2,13.9],[-14.4,13.9],[-13.5,13.9],[-12.6,13.9],[-11.8,13.9],[-11.0,13.9],[-10.1,13.9],
[-18.9,13.4],[-18.1,13.4],[-17.4,13.4],[-16.8,13.4],[-16.0,13.4],[-15.2,13.4],[-14.4,13.4],[-13.6,13.4],[-12.7,13.4],[-11.7,13.4],[-10.8,13.4],[-9.6,13.4],
[-20.2,12.8],[-19.2,12.8],[-18.3,12.8],[-17.4,12.8],[-16.6,12.8],[-15.8,12.8],[-15.0,12.8],[-14.3,12.8],[-13.1,12.8],[-12.5,12.8],[-11.6,12.8],[-10.3,12.8],
[-19.9,12.2],[-18.5,12.2],[-17.5,12.2],[-16.8,12.2],[-16.0,12.2],[-15.0,12.2],[-14.2,12.2],[-13.3,12.2],[-12.4,12.2],[-11.6,12.2],[-10.8,12.2],
[-18.9,11.7],[-17.9,11.7],[-17.0,11.7],[-16.1,11.7],[-15.2,11.7],[-14.7,11.7],[-13.9,11.7],[-12.9,11.7],[-12.0,11.7],[-11.3,11.7],
[-19.0,11.2],[-17.7,11.2],[-16.9,11.2],[-16.1,11.2],[-15.3,11.2],[-14.5,11.2],[-13.6,11.2],[-12.8,11.2],[-12.2,11.2],
[-17.9,10.6],[-17.3,10.6],[-16.5,10.6],[-15.7,10.6],[-15.1,10.6],[-14.1,10.6],[-13.0,10.6],[-12.3,10.6],
[-18.8,10.0],[-17.9,10.0],[-17.1,10.0],[-16.3,10.0],[-15.5,10.0],[-14.9,10.0],[-14.2,10.0],
[-19.0,9.5],[-18.0,9.5],[-17.0,9.5],[-16.2,9.5],[-15.4,9.5],[-17.6,9.0],[-16.8,9.0],[-15.9,9.0],[-15.3,9.0],
[-17.9,8.4],[-17.1,8.4],[-16.4,8.4],[-15.6,8.4],[-16.5,7.2],[-15.0,7.2],
[-19.9,16.9],[-19.0,17.2],[-18.2,17.1],[-20.6,15.2],[-19.4,15.7],[-18.4,15.4],[-19.1,14.7],[-19.9,13.4],[-20.1,12.9],[-19.0,11.6],
[-18.5,11.3],[-18.9,10.5],[-19.0,9.9],[-18.3,8.9],[-16.2,8.3],[-15.0,8.9],[-13.5,9.9],[-12.6,9.8],[-11.9,10.0],
[7.2,21.1],[-1.9,16.7],[0.0,14.3],[-1.4,12.3],[9.6,13.0],[8.4,11.8],[3.8,10.1],[5.9,10.0],[2.5,9.2],[-3.2,9.1],
[2.3,7.1],[1.4,6.5],[1.4,4.5],[14.9,4.5],[-2.9,-6.8],[-2.8,-6.9],[-3.0,-6.7],
[-23.5,-15.0],[-22.2,-19.0]
];

var seriesList = [apple, chair, lamp, plain, squirrel];

makeChart();

function makeChart() {
    var svgWidth = 1152;
    var svgHeight = 1152;
    var plot = {left: 183.5, right: 1094.5, top: 58.5, bottom: 1030.5};
    var fontSize = 52.5;
    var pointRadius = 6.4;

    var svg = d3.select(".chart")
        .append("svg")
        .attr("width", svgWidth)
        .attr("height", svgHeight)
        .style("display", "block");

    // Scales calibrated on the tick positions of the picture
    var xScale = d3.scaleLinear().domain([-33.51, 22.13]).range([plot.left, plot.right]);
    var yScale = d3.scaleLinear().domain([-37.2, 27.6]).range([plot.bottom, plot.top]);

    var bottomAxis = d3.axisBottom(xScale).tickValues(xTicks).tickSize(6.5).tickPadding(9).tickSizeOuter(0);
    var leftAxis = d3.axisLeft(yScale).tickValues(yTicks).tickSize(6.5).tickPadding(8).tickSizeOuter(0);

    // Points, one group per class in legend order so later classes sit on top
    seriesList.forEach(function(points, i) {
        svg.append("g")
            .attr("class", "points-" + labels[i])
            .selectAll("circle")
            .data(points)
            .enter().append("circle")
            .attr("cx", function(d) { return xScale(d[0]); })
            .attr("cy", function(d) { return yScale(d[1]); })
            .attr("r", pointRadius)
            .attr("fill", colors[i]);
    });

    // Axes
    var xAxisGroup = svg.append("g")
        .attr("transform", "translate(0," + plot.bottom + ")")
        .call(bottomAxis);
    var yAxisGroup = svg.append("g")
        .attr("transform", "translate(" + plot.left + ",0)")
        .call(leftAxis);

    [xAxisGroup, yAxisGroup].forEach(function(g) {
        g.select(".domain").remove();
        g.selectAll("line").attr("stroke", "#000").attr("stroke-width", 1.1);
        g.selectAll("text")
            .attr("fill", "#000")
            .style("font-family", '"DejaVu Sans"')
            .style("font-size", fontSize + "px");
    });
    yAxisGroup.selectAll("text").attr("dy", "0.38em");

    // Frame
    svg.append("rect")
        .attr("x", plot.left)
        .attr("y", plot.top)
        .attr("width", plot.right - plot.left)
        .attr("height", plot.bottom - plot.top)
        .attr("fill", "none")
        .attr("stroke", "#000")
        .attr("stroke-width", 1.1);

    // Legend
    var legend = svg.append("g").attr("class", "legend");
    legend.append("rect")
        .attr("x", 442.5)
        .attr("y", 594.5)
        .attr("width", 391.5)
        .attr("height", 408)
        .attr("rx", 8)
        .attr("fill", "#fff")
        .attr("fill-opacity", 0.8)
        .attr("stroke", "#ccc")
        .attr("stroke-opacity", 0.8)
        .attr("stroke-width", 1.5);

    var legendY = d3.scalePoint().domain(labels).range([642.5, 957.5]);

    labels.forEach(function(name, i) {
        legend.append("circle")
            .attr("cx", 517.5)
            .attr("cy", legendY(name))
            .attr("r", pointRadius)
            .attr("fill", colors[i]);
        legend.append("text")
            .attr("x", 613.5)
            .attr("y", legendY(name) + 13.5)
            .style("font-size", "53px")
            .attr("fill", "#000")
            .text(name);
    });
}
</script>
</body>
</html>
